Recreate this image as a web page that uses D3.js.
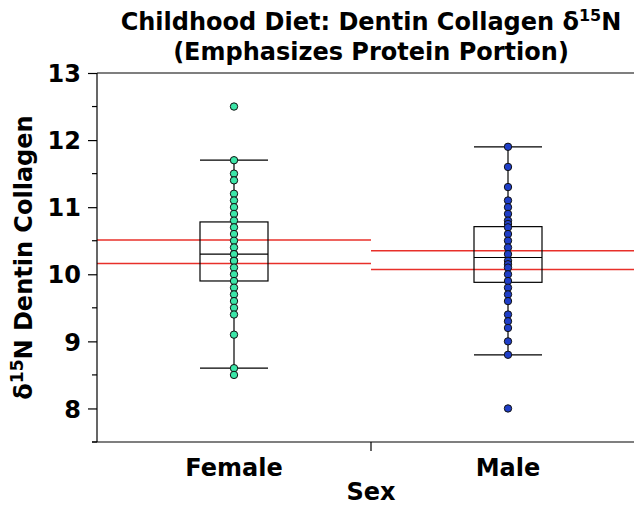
<!DOCTYPE html>
<html>
<head>
<meta charset="utf-8">
<script src="https://cdn.jsdelivr.net/npm/d3@7"></script>
<style>
  html, body { margin: 0; padding: 0; background: #fff; }
  svg { display: block; font-family: "DejaVu Sans", sans-serif; }
</style>
</head>
<body>
<svg id="chart" width="634" height="506"></svg>
<script>
// ---- data ----
const categories = ["Female", "Male"];
const femaleValues = [12.5, 11.7, 11.5, 11.4, 11.2, 11.1, 11.0, 10.9, 10.8, 10.7, 10.6, 10.5, 10.4, 10.3, 10.3, 10.2, 10.2, 10.1, 10.0, 9.9, 9.8, 9.7, 9.6, 9.5, 9.4, 9.1, 8.6, 8.5];
const maleValues = [11.9, 11.6, 11.3, 11.1, 11.0, 10.9, 10.8, 10.75, 10.7, 10.6, 10.5, 10.4, 10.3, 10.2, 10.15, 10.1, 10.0, 9.9, 9.8, 9.7, 9.6, 9.4, 9.3, 9.2, 9.0, 8.8, 8.0];
const boxQ1 = [9.9, 9.88];
const boxMedian = [10.3, 10.25];
const boxQ3 = [10.78, 10.71];
const whiskerLow = [8.6, 8.8];
const whiskerHigh = [11.7, 11.9];
const ciLow = [10.16, 10.07];
const ciHigh = [10.51, 10.35];
const yTicks = [8, 9, 10, 11, 12, 13];
const yMinorTicks = [7.5, 8.5, 9.5, 10.5, 11.5, 12.5];
const pointColors = ["#3ce6a8", "#1f3ec8"];
const seriesValues = [femaleValues, maleValues];

// ---- layout ----
const svg = d3.select("#chart");
const margin = { left: 97, top: 73, right: 645, bottom: 442 };
const FS = 24;

const x = d3.scaleBand().domain(categories).range([margin.left, margin.right]).padding(0);
const y = d3.scaleLinear().domain([7.5, 13]).range([margin.bottom, margin.top]);
const boxW = 68;

// frame: top line
svg.append("line")
  .attr("x1", margin.left).attr("x2", margin.right)
  .attr("y1", margin.top).attr("y2", margin.top)
  .attr("stroke", "#000").attr("stroke-width", 1.2);

// CI red lines
categories.forEach((c, i) => {
  [ciLow[i], ciHigh[i]].forEach(v => {
    svg.append("line")
      .attr("x1", x(c)).attr("x2", x(c) + x.bandwidth())
      .attr("y1", y(v)).attr("y2", y(v))
      .attr("stroke", "#e8302a").attr("stroke-width", 1.5);
  });
});

// boxes
categories.forEach((c, i) => {
  const cx = x(c) + x.bandwidth() / 2;
  const g = svg.append("g");
  g.append("line").attr("x1", cx).attr("x2", cx)
    .attr("y1", y(whiskerLow[i])).attr("y2", y(whiskerHigh[i]))
    .attr("stroke", "#000").attr("stroke-width", 1.2);
  g.append("rect").attr("x", cx - boxW / 2).attr("width", boxW)
    .attr("y", y(boxQ3[i])).attr("height", y(boxQ1[i]) - y(boxQ3[i]))
    .attr("fill", "none").attr("stroke", "#000").attr("stroke-width", 1.2);
  g.append("line").attr("x1", cx - boxW / 2).attr("x2", cx + boxW / 2)
    .attr("y1", y(boxMedian[i])).attr("y2", y(boxMedian[i]))
    .attr("stroke", "#000").attr("stroke-width", 1.2);
  [whiskerLow[i], whiskerHigh[i]].forEach(v => {
    g.append("line").attr("x1", cx - boxW / 2).attr("x2", cx + boxW / 2)
      .attr("y1", y(v)).attr("y2", y(v))
      .attr("stroke", "#000").attr("stroke-width", 1.2);
  });
  g.selectAll("circle.pt").data(seriesValues[i]).enter().append("circle")
    .attr("cx", cx).attr("cy", d => y(d)).attr("r", 3.7)
    .attr("fill", pointColors[i]).attr("stroke", "#111").attr("stroke-width", 1);
});

// y axis
const yAxis = svg.append("g").attr("transform", `translate(${margin.left},0)`)
  .call(d3.axisLeft(y).tickValues(yTicks).tickSize(9).tickPadding(7).tickFormat(d3.format("d")));
yAxis.select(".domain").attr("stroke-width", 1.2).attr("d", `M0,${margin.bottom}V${margin.top}`);
yAxis.selectAll(".tick line").attr("stroke-width", 1.2);
yAxis.selectAll(".tick text").attr("font-size", FS).attr("font-weight", "bold")
  .attr("font-family", "DejaVu Sans").attr("fill", "#000").attr("dy", "0.36em");
yAxis.selectAll("line.minor").data(yMinorTicks).enter().append("line")
  .attr("class", "minor").attr("x1", -5).attr("x2", 0)
  .attr("y1", d => y(d)).attr("y2", d => y(d))
  .attr("stroke", "#000").attr("stroke-width", 1.2);

// x axis
const xAxis = svg.append("g").attr("transform", `translate(0,${margin.bottom})`)
  .call(d3.axisBottom(x).tickSize(0).tickPadding(17));
xAxis.select(".domain").attr("stroke-width", 1.2).attr("d", `M${margin.left - 5},0H${margin.right}`);
xAxis.selectAll(".tick text").attr("font-size", FS).attr("font-weight", "bold")
  .attr("font-family", "DejaVu Sans").attr("fill", "#000");
xAxis.append("line").attr("x1", x("Male")).attr("x2", x("Male"))
  .attr("y1", 0).attr("y2", 9).attr("stroke", "#000").attr("stroke-width", 1.2);

// axis titles
const midX = (margin.left + margin.right) / 2;
svg.append("text").attr("x", midX).attr("y", 500).attr("text-anchor", "middle")
  .attr("font-size", FS).attr("font-weight", "bold").text("Sex");

const yl = svg.append("text")
  .attr("transform", `translate(32,${(margin.top + margin.bottom) / 2}) rotate(-90)`)
  .attr("text-anchor", "middle").attr("font-size", FS).attr("font-weight", "bold");
yl.append("tspan").text("δ");
yl.append("tspan").attr("font-size", 17).attr("dy", -9).text("15");
yl.append("tspan").attr("dy", 9).text("N Dentin Collagen");

// title
const t1 = svg.append("text").attr("x", midX).attr("y", 30).attr("text-anchor", "middle")
  .attr("font-size", FS).attr("font-weight", "bold");
t1.append("tspan").text("Childhood Diet: Dentin Collagen δ");
t1.append("tspan").attr("font-size", 16).attr("dy", -9).text("15");
t1.append("tspan").attr("dy", 9).text("N");
svg.append("text").attr("x", midX).attr("y", 60).attr("text-anchor", "middle")
  .attr("font-size", FS).attr("font-weight", "bold").text("(Emphasizes Protein Portion)");
</script>
</body>
</html>
